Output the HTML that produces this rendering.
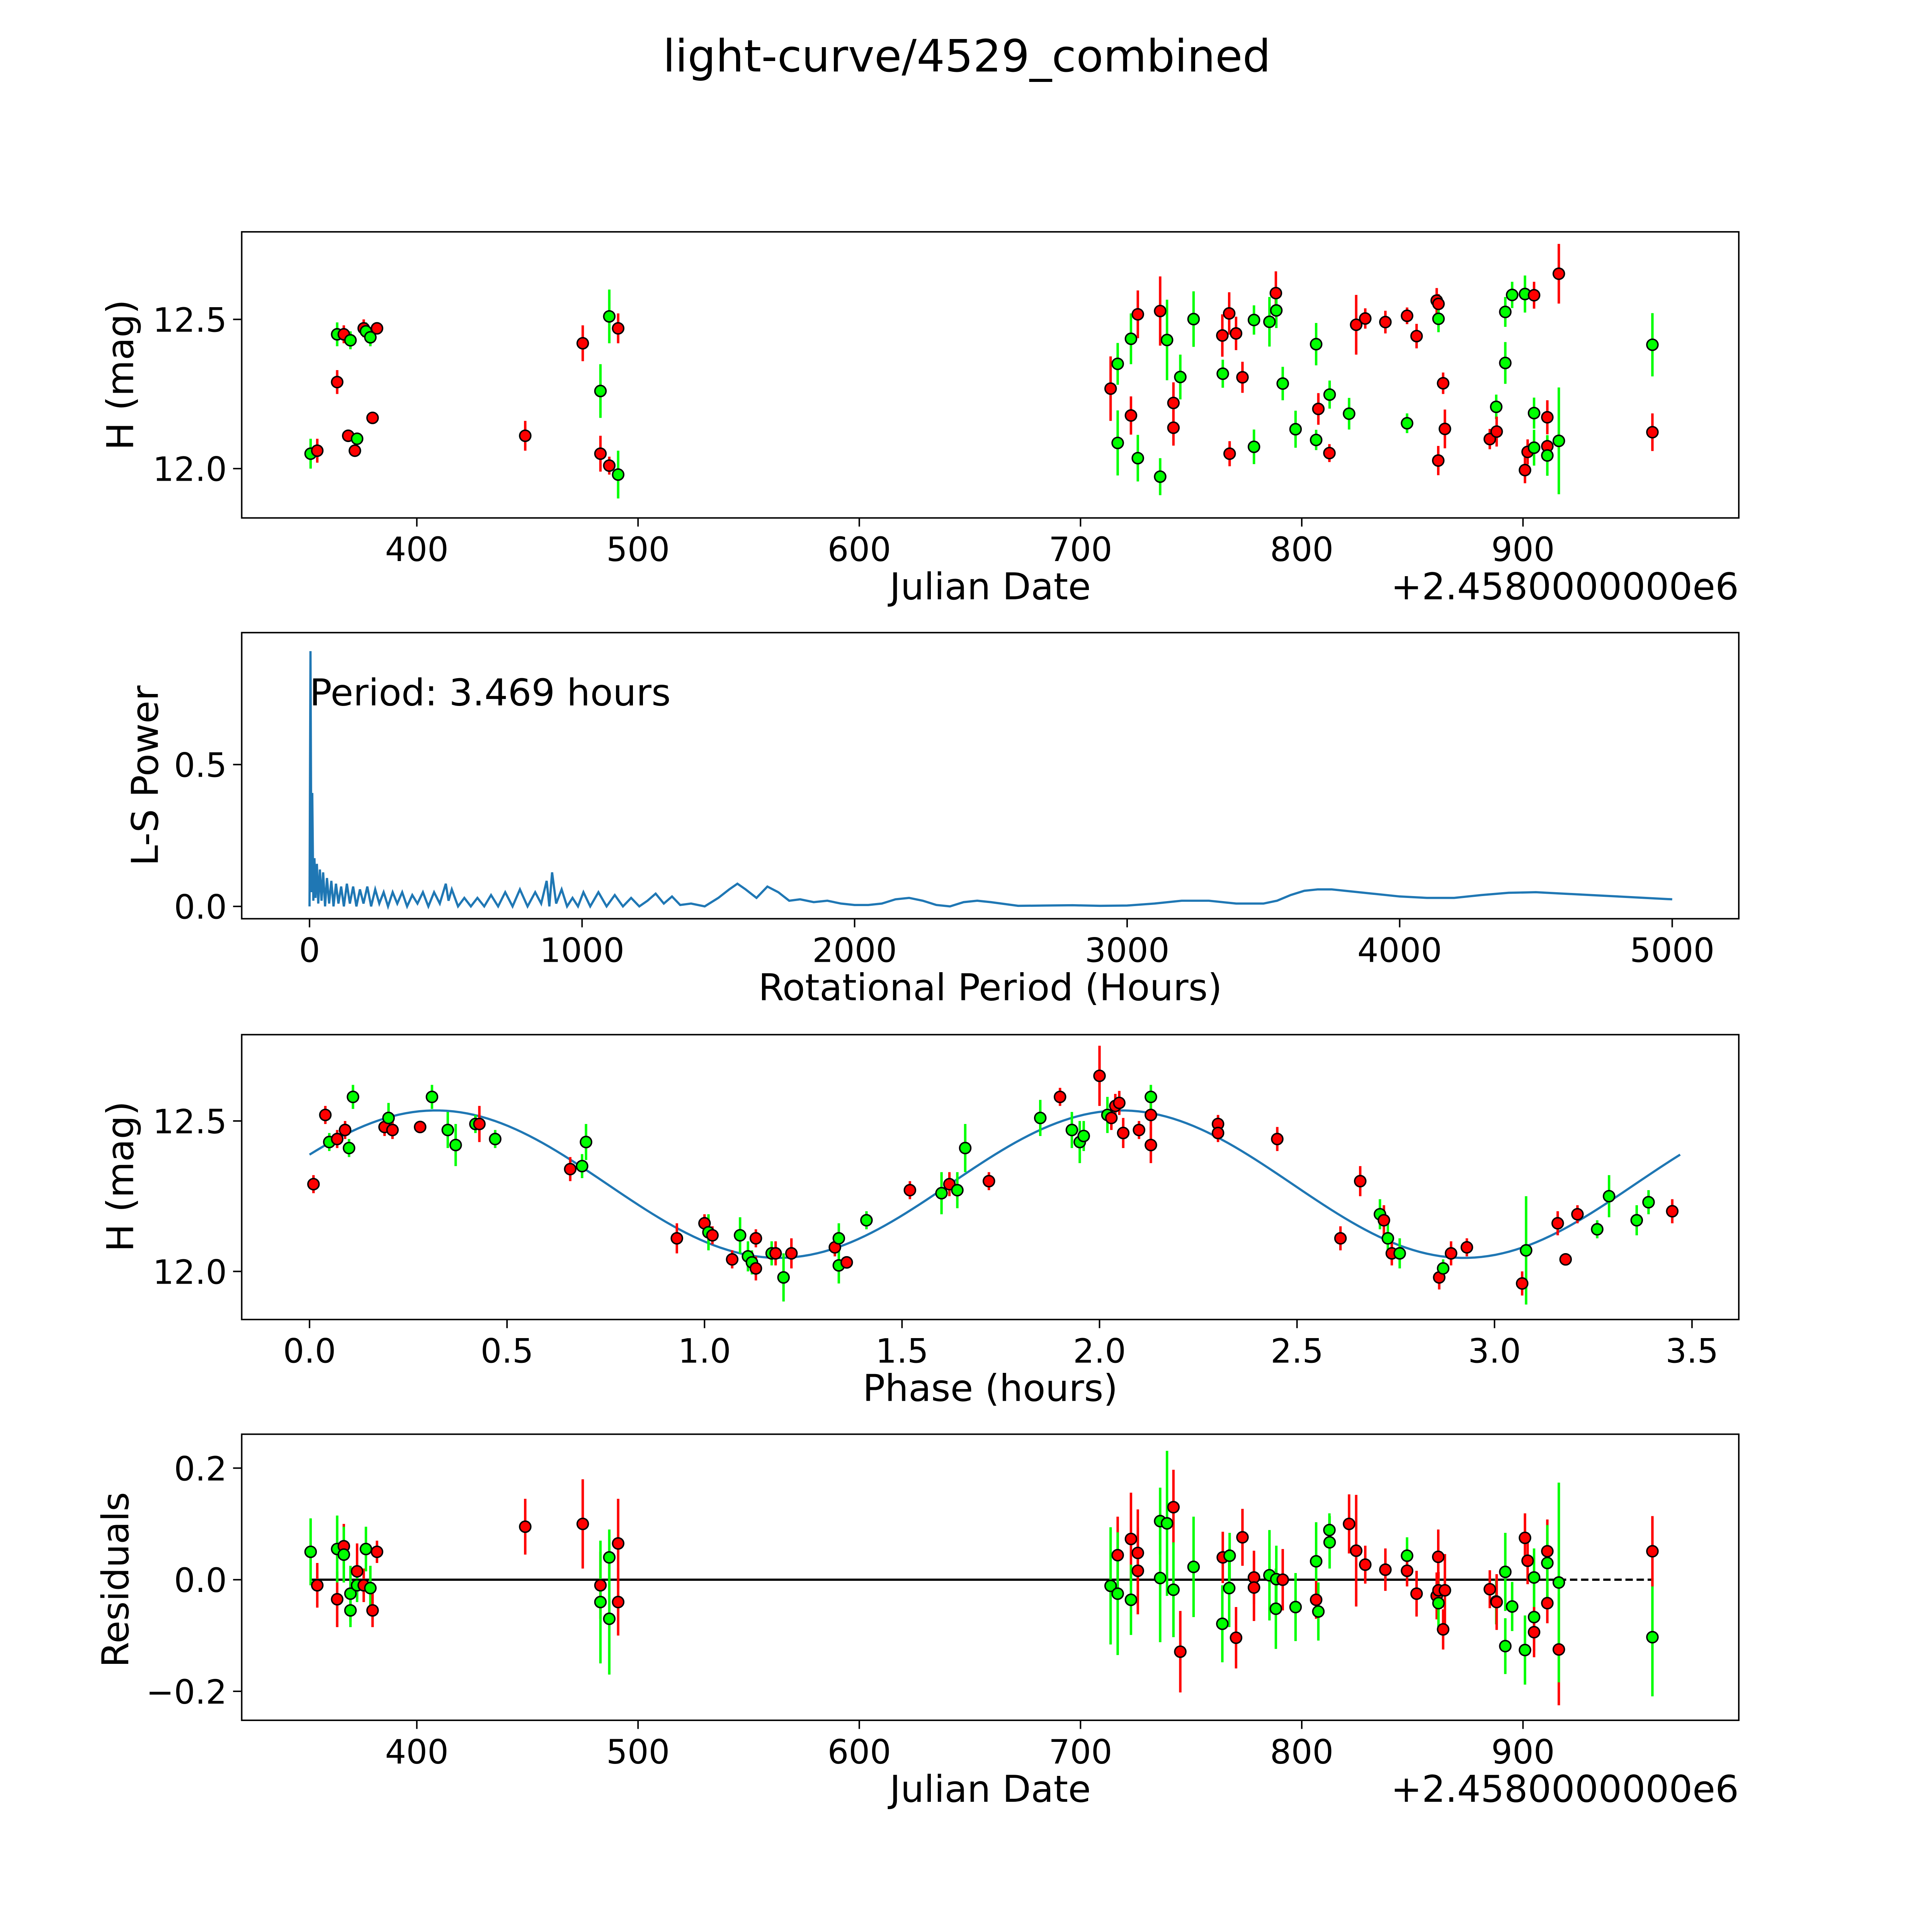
<!DOCTYPE html>
<html><head><meta charset="utf-8"><style>
html,body{margin:0;padding:0;background:#fff;overflow:hidden;width:5400px;height:5400px}
svg{display:block}
text{font-family:"DejaVu Sans","Liberation Sans",sans-serif;fill:#000}
</style></head><body>
<svg id="fig" width="5400" height="5400" viewBox="0 0 1692 1692" xmlns="http://www.w3.org/2000/svg">
<rect x="0" y="0" width="1692" height="1692" fill="#fff"/>
<text x="784" y="58" font-size="36" text-anchor="middle">light-curve/4529_combined</text>
</svg>
<script>
// Panel 1: raw light curve
const lcDates=[352,355,364,364,367,370,369,372,373,376,377,379,380,382,449,475,483,483,487,487,491,491,
713.6,716.8,716.8,722.8,722.8,725.9,725.9,736,736,739.1,742,742,745.1,751.1,764.1,764.3,767.2,767.4,770.3,773.2,778.4,778.4,785.4,788.3,788.5,791.4,797.2,806.5,806.5,807.5,812.6,812.5,821.4,824.6,828.7,837.8,847.6,847.6,851.9,861,861.8,861.8,861.7,863.9,864.7,885,887.9,888.1,892,892,895.1,900.9,900.9,902.1,905,905,905,911,911,911,916.2,916.2,958.5,958.5];
const lcMags=[12.05,12.06,12.29,12.45,12.45,12.43,12.11,12.06,12.10,12.47,12.46,12.44,12.17,12.47,12.11,12.42,12.05,12.26,12.51,12.01,12.47,11.98,
12.268,12.351,12.086,12.435,12.178,12.517,12.035,12.528,11.973,12.431,12.22,12.137,12.307,12.501,12.446,12.318,12.52,12.05,12.453,12.306,12.498,12.073,12.492,12.588,12.53,12.285,12.132,12.417,12.096,12.20,12.248,12.052,12.184,12.482,12.503,12.491,12.152,12.512,12.444,12.563,12.552,12.502,12.027,12.286,12.133,12.099,12.207,12.124,12.525,12.354,12.582,12.585,11.995,12.056,12.186,12.07,12.581,12.172,12.075,12.044,12.653,12.093,12.415,12.122];
const lcErrs=[0.05,0.04,0.04,0.04,0.03,0.03,0.02,0.02,0.02,0.03,0.03,0.03,0.02,0.02,0.05,0.06,0.06,0.09,0.09,0.03,0.05,0.08,
0.108,0.07,0.109,0.085,0.064,0.08,0.078,0.116,0.062,0.135,0.069,0.06,0.075,0.093,0.071,0.047,0.071,0.042,0.056,0.052,0.049,0.058,0.083,0.073,0.059,0.056,0.062,0.071,0.034,0.053,0.047,0.03,0.053,0.1,0.034,0.038,0.033,0.028,0.041,0.042,0.033,0.045,0.049,0.036,0.065,0.034,0.041,0.05,0.05,0.07,0.044,0.062,0.044,0.042,0.052,0.06,0.045,0.057,0.036,0.068,0.1,0.179,0.106,0.063];
const lcColors="grrgrgrrgrggrrrrrggrrgrgggrrgrggrrggrgrrrrgggrgggggrgrgrrrgrrrrgrrrrgrggggrrggrrrgrggr".split("");
// Panel 2: periodogram
const pgPeriod=[0,3.5,7,10,14,18,22,27,32,38,44,50,57,64,72,80,88,97,106,116,126,137,148,160,172,185,198,212,226,241,256,272,288,305,322,340,358,377,396,416,436,457,478,500,510,522,545,568,592,616,641,666,692,718,745,772,800,828,850,870,880,890,905,925,945,965,985,1005,1030,1060,1090,1120,1150,1180,1210,1240,1270,1300,1330,1360,1400,1450,1500,1540,1570,1600,1640,1680,1720,1760,1800,1850,1900,1950,2000,2050,2100,2150,2200,2250,2300,2350,2400,2450,2500,2600,2700,2800,2900,3000,3100,3200,3300,3400,3500,3550,3600,3650,3700,3750,3800,3900,4000,4100,4200,4300,4400,4500,4600,4700,4800,4900,5000];
const pgPower=[0,0.90,0.05,0.40,0.02,0.17,0.03,0.15,0.01,0.13,0.02,0.12,0.00,0.10,0.01,0.09,0.00,0.08,0.01,0.07,0.00,0.08,0.01,0.07,0.00,0.06,0.01,0.07,0.00,0.06,0.01,0.05,0.00,0.05,0.01,0.05,0.00,0.04,0.01,0.05,0.00,0.05,0.01,0.08,0.02,0.06,0.00,0.03,0.00,0.03,0.00,0.04,0.00,0.05,0.00,0.06,0.00,0.05,0.01,0.09,0.00,0.12,0.01,0.06,0.00,0.03,0.00,0.05,0.00,0.05,0.00,0.04,0.00,0.03,0.00,0.02,0.045,0.01,0.035,0.005,0.01,0.0,0.03,0.06,0.08,0.06,0.03,0.07,0.05,0.02,0.025,0.015,0.02,0.01,0.005,0.005,0.01,0.025,0.03,0.02,0.005,0.0,0.015,0.02,0.015,0.002,0.003,0.004,0.002,0.003,0.01,0.02,0.02,0.01,0.01,0.02,0.04,0.055,0.06,0.06,0.055,0.045,0.035,0.03,0.03,0.04,0.048,0.05,0.045,0.04,0.035,0.03,0.025];
// Panel 3: phased curve
const phPhase=[0.01,0.04,0.05,0.07,0.09,0.10,0.11,0.19,0.20,0.21,0.28,0.31,0.35,0.37,0.42,0.43,0.47,0.66,0.69,0.70,0.93,1.00,1.01,1.02,1.07,1.09,1.11,1.12,1.13,1.13,1.17,1.18,1.20,1.22,1.33,1.34,1.34,1.36,1.41,1.52,1.60,1.62,1.64,1.66,1.72,1.85,1.90,1.93,1.95,1.96,2.00,2.02,2.03,2.04,2.05,2.06,2.10,2.13,2.13,2.13,2.30,2.30,2.45,2.61,2.66,2.71,2.72,2.73,2.74,2.76,2.86,2.87,2.89,2.93,3.07,3.08,3.16,3.18,3.21,3.26,3.29,3.36,3.39,3.45];
const phMags=[12.29,12.52,12.43,12.44,12.47,12.41,12.58,12.48,12.51,12.47,12.48,12.58,12.47,12.42,12.49,12.49,12.44,12.34,12.35,12.43,12.11,12.16,12.13,12.12,12.04,12.12,12.05,12.03,12.01,12.11,12.06,12.06,11.98,12.06,12.08,12.11,12.02,12.03,12.17,12.27,12.26,12.29,12.27,12.41,12.30,12.51,12.58,12.47,12.43,12.45,12.65,12.52,12.51,12.55,12.56,12.46,12.47,12.42,12.52,12.58,12.49,12.46,12.44,12.11,12.30,12.19,12.17,12.11,12.06,12.06,11.98,12.01,12.06,12.08,11.96,12.07,12.16,12.04,12.19,12.14,12.25,12.17,12.23,12.20];
const phErrs=[0.03,0.03,0.03,0.03,0.03,0.03,0.04,0.03,0.05,0.03,0.02,0.04,0.06,0.07,0.03,0.06,0.03,0.04,0.04,0.06,0.05,0.03,0.06,0.03,0.03,0.06,0.05,0.04,0.04,0.03,0.04,0.04,0.08,0.05,0.03,0.05,0.06,0.02,0.03,0.03,0.07,0.04,0.06,0.08,0.03,0.06,0.03,0.06,0.07,0.05,0.1,0.06,0.04,0.04,0.04,0.05,0.03,0.06,0.05,0.04,0.03,0.03,0.04,0.04,0.05,0.05,0.05,0.06,0.04,0.05,0.04,0.03,0.04,0.03,0.04,0.18,0.04,0.02,0.03,0.03,0.07,0.05,0.04,0.04];
const phColors="rrgrrggrgrrggggrgrggrrgrrgggrrgrgrrggrgrgrggrgrgggrgrrrrrrrgrrrrrgrgrgrgrrrgrrrggggr".split("");
// fit model: mean, amplitude, period of sinusoid (hours), peak phase
const fitParams=[12.29,0.245,1.735,0.32];
// Panel 4: residuals
const rsDates=[352,355,364,364,367,367,370,370,373,373,376,377,379,380,382,449,475,483,483,487,487,491,491,
713.6,716.8,716.8,722.8,722.8,725.9,725.9,736,736,739.1,742,742,745.1,751.1,764.1,764.3,767.2,767.4,770.3,773.2,778.4,778.4,785.4,788.3,788.5,791.4,797.2,806.5,806.5,807.5,812.6,812.5,821.4,824.6,828.7,837.8,847.6,847.6,851.9,861,861.8,861.8,861.7,863.9,864.7,885,887.9,888.1,892,892,895.1,900.9,900.9,902.1,905,905,905,911,911,911,916.2,916.2,958.5,958.5];
const rsVals=[0.05,-0.01,-0.035,0.055,0.06,0.045,-0.025,-0.055,0.015,-0.01,-0.01,0.055,-0.015,-0.055,0.05,0.095,0.10,-0.01,-0.04,-0.07,0.04,0.065,-0.04,
-0.011,0.044,-0.025,0.073,-0.036,0.016,0.048,0.105,0.003,0.101,0.13,-0.018,-0.129,0.023,-0.079,0.04,-0.015,0.043,-0.104,0.076,0.004,-0.014,0.008,-0.052,0.001,0,-0.049,0.033,-0.036,-0.057,0.067,0.089,0.1,0.052,0.027,0.018,0.043,0.016,-0.025,-0.029,-0.019,-0.042,0.041,-0.089,-0.019,-0.017,-0.039,-0.04,-0.119,0.014,-0.048,-0.126,0.075,0.034,0.004,-0.067,-0.094,0.051,-0.042,0.03,-0.125,-0.005,-0.103,0.051];
const rsErrs=[0.06,0.04,0.05,0.06,0.04,0.05,0.05,0.03,0.05,0.03,0.03,0.04,0.04,0.03,0.02,0.05,0.08,0.06,0.11,0.1,0.05,0.08,0.06,
0.105,0.069,0.11,0.083,0.063,0.078,0.078,0.06,0.115,0.13,0.067,0.085,0.073,0.09,0.069,0.046,0.07,0.041,0.055,0.051,0.048,0.06,0.081,0.072,0.06,0.055,0.061,0.07,0.034,0.052,0.047,0.03,0.053,0.1,0.034,0.038,0.033,0.028,0.041,0.042,0.033,0.045,0.049,0.036,0.065,0.034,0.041,0.05,0.05,0.07,0.044,0.062,0.044,0.042,0.052,0.06,0.045,0.057,0.036,0.068,0.1,0.179,0.106,0.063];
const rsColors="grrgrgggrgrggrrrrrgggrrgrgrgrrgggrgrggrggrrrrgggrggrgggrrrrgrrrrgrrrrgrggggrrggrrrgrggr".split("");

const NS="http://www.w3.org/2000/svg";
const svg=document.getElementById('fig');
function el(tag,attrs,parent){const e=document.createElementNS(NS,tag);for(const k in attrs)e.setAttribute(k,attrs[k]);(parent||svg).appendChild(e);return e;}
function txt(s,x,y,size,anchor,parent,rot){const t=el('text',{x:x,y:y,'font-size':size,'text-anchor':anchor||'middle'},parent);if(rot)t.setAttribute('transform','rotate(-90 '+x+' '+y+')');t.textContent=s;return t;}
const COL={g:'#00ff00',r:'#ff0000'};
const L=196,R=1410;
const TS=27, LS=30;

function axesBox(top,bottom,name){
  const g=el('g',{});
  
  
  const r=el('rect',{x:L,y:top,width:R-L,height:bottom-top,fill:'none',stroke:'#000','stroke-width':1.2},g);
  
  
  return g;
}
function xTicks(g,bottom,vals,fx,labels){
  vals.forEach((v,i)=>{const x=fx(v);
    const l=el('line',{x1:x,x2:x,y1:bottom,y2:bottom+7,stroke:'#000','stroke-width':1.2},g);
    
    
    const t=txt(labels[i],x,bottom+35,TS,'middle',g);
    
    });
}
function yTicks(g,vals,fy,labels){
  vals.forEach((v,i)=>{const y=fy(v);
    const l=el('line',{x1:L-7,x2:L,y1:y,y2:y,stroke:'#000','stroke-width':1.2},g);
    
    
    const t=txt(labels[i],L-12,y+10,TS,'end',g);
    
    });
}
function errPoints(g,xs,ys,es,cs,fx,fy,name){
  xs.forEach((xv,i)=>{const x=fx(xv);
    const b=el('line',{x1:x,x2:x,y1:fy(ys[i]+es[i]),y2:fy(ys[i]-es[i]),stroke:COL[cs[i]],'stroke-width':2},g);
    
    });
  xs.forEach((xv,i)=>{
    const c=el('circle',{cx:fx(xv),cy:fy(ys[i]),r:4.5,fill:COL[cs[i]],stroke:'#000','stroke-width':1.2},g);
    
    });
}
const fxJD=d=>338+(d-400)*1.794;

// Panel 1
{const top=188,bot=420;const g=axesBox(top,bot,'light-curve-axes');
 const fy=m=>259-(m-12.5)*242;
 xTicks(g,bot,[400,500,600,700,800,900],fxJD,['400','500','600','700','800','900']);
 yTicks(g,[12.0,12.5],fy,['12.0','12.5']);
 errPoints(g,lcDates,lcMags,lcErrs,lcColors,fxJD,fy,'light-curve');
 let t=txt('Julian Date',803,486,LS,'middle',g);
 t=txt('+2.4580000000e6',1410,486,LS,'end',g);
 t=txt('H (mag)',108,304,LS,'middle',g,true);
}
// Panel 2
{const top=513,bot=745;const g=axesBox(top,bot,'periodogram-axes');
 const fx=p=>251+p*0.221, fy=v=>735-v*230;
 xTicks(g,bot,[0,1000,2000,3000,4000,5000],fx,['0','1000','2000','3000','4000','5000']);
 yTicks(g,[0,0.5],fy,['0.0','0.5']);
 const d=pgPeriod.map((p,i)=>(i?'L':'M')+fx(p).toFixed(2)+' '+fy(pgPower[i]).toFixed(2)).join(' ');
 const pl=el('path',{d:d,fill:'none',stroke:'#1f77b4','stroke-width':1.8},g);
 
 
 let t=txt('Period: 3.469 hours',251,572,LS,'start',g);
 t=txt('Rotational Period (Hours)',803,811,LS,'middle',g);
 t=txt('L-S Power',128,629,LS,'middle',g,true);
}
// Panel 3
{const top=839,bot=1070;const g=axesBox(top,bot,'phase-curve-axes');
 const fx=p=>251+p*320.3, fy=m=>909-(m-12.5)*244;
 xTicks(g,bot,[0,0.5,1,1.5,2,2.5,3,3.5],fx,['0.0','0.5','1.0','1.5','2.0','2.5','3.0','3.5']);
 yTicks(g,[12.0,12.5],fy,['12.0','12.5']);
 let d='';for(let i=0;i<=200;i++){const p=3.47*i/200;const m=fitParams[0]+fitParams[1]*Math.cos(2*Math.PI*(p-fitParams[3])/fitParams[2]);d+=(i?'L':'M')+fx(p).toFixed(2)+' '+fy(m).toFixed(2);}
 const pl=el('path',{d:d,fill:'none',stroke:'#1f77b4','stroke-width':1.8},g);
 
 
 errPoints(g,phPhase,phMags,phErrs,phColors,fx,fy,'phase');
 let t=txt('Phase (hours)',803,1136,LS,'middle',g);
 t=txt('H (mag)',108,954,LS,'middle',g,true);
}
// Panel 4
{const top=1163,bot=1395;const g=axesBox(top,bot,'residuals-axes');
 const fy=v=>1281-v*452.5;
 xTicks(g,bot,[400,500,600,700,800,900],fxJD,['400','500','600','700','800','900']);
 yTicks(g,[-0.2,0,0.2],fy,['\u22120.2','0.0','0.2']);
 let l=el('line',{x1:fxJD(352),x2:fxJD(916.2),y1:fy(0),y2:fy(0),stroke:'#000','stroke-width':1.8},g);
 
 
 l=el('line',{x1:fxJD(916.2),x2:fxJD(958.5),y1:fy(0),y2:fy(0),stroke:'#000','stroke-width':1.8,'stroke-dasharray':'6 3'},g);
 
 
 errPoints(g,rsDates,rsVals,rsErrs,rsColors,fxJD,fy,'residual');
 let t=txt('Julian Date',803,1461,LS,'middle',g);
 t=txt('+2.4580000000e6',1410,1461,LS,'end',g);
 t=txt('Residuals',104,1281,LS,'middle',g,true);
}
</script>
</body></html>
